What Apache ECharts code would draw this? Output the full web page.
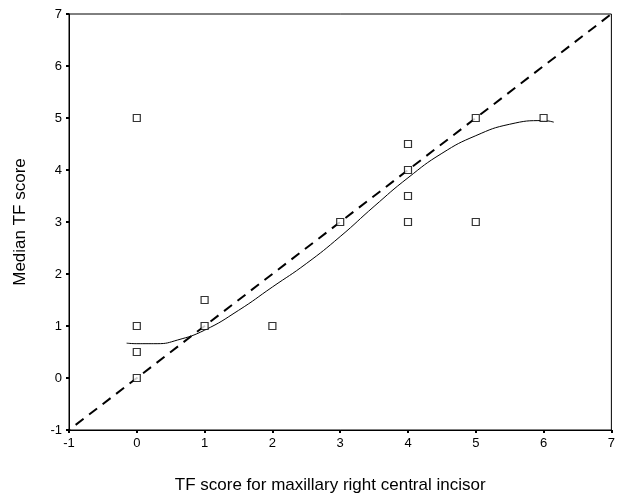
<!DOCTYPE html>
<html>
<head>
<meta charset="utf-8">
<script src="https://cdn.jsdelivr.net/npm/echarts@6/dist/echarts.min.js"></script>
<style>
html, body { margin: 0; padding: 0; background: #fff; }
#chart { width: 618px; height: 502px; }
</style>
</head>
<body>
<div id="chart"></div>
<script>
// observed points: [TF score incisor, median TF score]
let points = [
	[0, 5], [0, 1], [0, 0.5], [0, 0],
	[1, 1.5], [1, 1], [2, 1], [3, 3],
	[4, 4.5], [4, 4], [4, 3.5], [4, 3],
	[5, 5], [5, 3], [6, 5],
];
// smoothed fit line
let fit_x = [-0.15, 0, 0.3, 0.6, 1, 1.5, 2, 2.5, 3, 3.5, 4, 4.5, 5, 5.5, 6, 6.15];
let fit_y = [0.67, 0.66, 0.66, 0.73, 0.92, 1.3, 1.75, 2.2, 2.72, 3.3, 3.85, 4.32, 4.66, 4.88, 4.95, 4.92];
// identity reference line (runs a little past the lower-left corner)
let diag = [[-1.3, -1.3], [7, 7]];

let chart = echarts.init(document.getElementById('chart'));
let axis_common = {
	type: 'value',
	min: -1,
	max: 7,
	interval: 1,
	splitLine: { show: false },
	axisLine: { show: true, onZero: false, lineStyle: { color: '#000', width: 1 } },
	axisTick: { show: true, length: 3, lineStyle: { color: '#000', width: 2 } },
	axisLabel: { color: '#000', fontFamily: 'Liberation Sans', fontSize: 13 },
	nameLocation: 'middle',
	nameTextStyle: { color: '#000', fontFamily: 'Liberation Sans', fontSize: 17 },
};
chart.setOption({
	animation: false,
	backgroundColor: '#fff',
	grid: { left: 69, right: 5, top: 14, bottom: 72, show: true, borderColor: '#000', borderWidth: 1 },
	xAxis: Object.assign({}, axis_common, {
		name: 'TF score for maxillary right central incisor',
		nameGap: 47,
		nameTextStyle: Object.assign({}, axis_common.nameTextStyle, { padding: [0, 20, 0, 0] }),
		axisLabel: Object.assign({}, axis_common.axisLabel, { margin: 7 }),
	}),
	yAxis: Object.assign({}, axis_common, {
		name: 'Median TF score',
		nameGap: 40,
		axisLabel: Object.assign({}, axis_common.axisLabel, { margin: 7 }),
	}),
	series: [
		{
			type: 'line',
			data: diag,
			symbol: 'none',
			clip: false,
			lineStyle: { color: '#000', width: 2, type: [10, 7] },
			z: 2,
		},
		{
			type: 'line',
			data: fit_x.map((x, i) => [x, fit_y[i]]),
			symbol: 'none',
			smooth: true,
			lineStyle: { color: '#000', width: 1 },
			z: 3,
		},
		{
			type: 'scatter',
			data: points,
			symbol: 'rect',
			symbolSize: 7,
			itemStyle: { color: '#fff', borderColor: '#000', borderWidth: 1.2 },
			z: 4,
		},
	],
});
</script>
</body>
</html>
